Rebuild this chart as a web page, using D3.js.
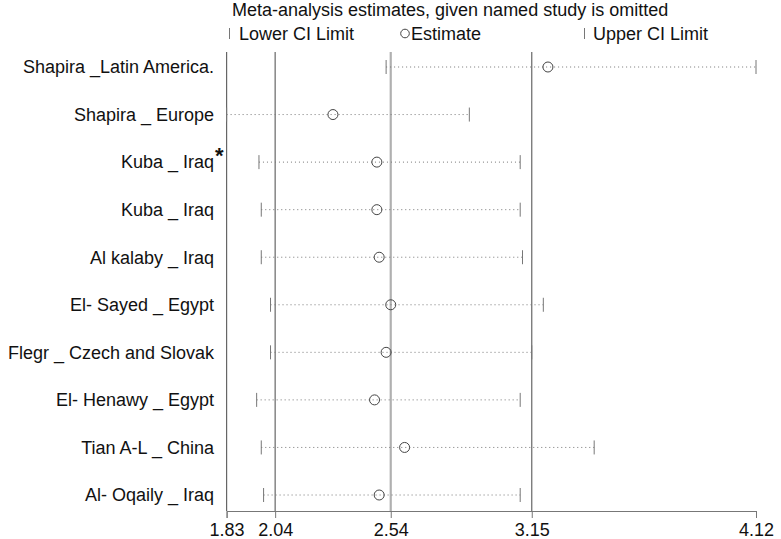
<!DOCTYPE html>
<html>
<head>
<meta charset="utf-8">
<script src="https://cdn.jsdelivr.net/npm/d3@7"></script>
<style>
  html, body { margin: 0; padding: 0; background: #fff; }
  svg { display: block; font-family: Arial, "Liberation Sans", sans-serif; }
</style>
</head>
<body>
<svg id="chart" width="781" height="539"></svg>
<script>
const studies = [
  "Shapira _Latin America.",
  "Shapira _ Europe",
  "Kuba _ Iraq",
  "Kuba _ Iraq",
  "Al kalaby _ Iraq",
  "El- Sayed _ Egypt",
  "Flegr _ Czech and Slovak",
  "El- Henawy _ Egypt",
  "Tian A-L _ China",
  "Al- Oqaily _ Iraq"
];
const starred = [false, false, true, false, false, false, false, false, false, false];
const lowerCI  = [2.52, 1.83, 1.97, 1.98, 1.98, 2.02, 2.02, 1.96, 1.98, 1.99];
const estimate = [3.22, 2.29, 2.48, 2.48, 2.49, 2.54, 2.52, 2.47, 2.60, 2.49];
const upperCI  = [4.12, 2.88, 3.10, 3.10, 3.11, 3.20, 3.15, 3.10, 3.42, 3.10];
const tickValues = [1.83, 2.04, 2.54, 3.15, 4.12];
const refLines = [2.04, 2.54, 3.15];
const title = "Meta-analysis estimates, given named study is omitted";

const svg = d3.select("#chart");
const x = d3.scaleLinear().domain([1.83, 4.12]).range([226.6, 756]);
const y = d3.scalePoint().domain(d3.range(studies.length)).range([67, 495]);
const plotTop = 52, axisY = 511;
const idx = d3.range(studies.length);

// title
svg.append("text").attr("x", 232).attr("y", 16).attr("font-size", 18).attr("fill", "#111").text(title);

// legend
const lg = svg.append("g");
lg.append("line").attr("x1", 229.5).attr("x2", 229.5).attr("y1", 28).attr("y2", 39).attr("stroke", "#777");
lg.append("text").attr("x", 239).attr("y", 39.5).attr("font-size", 18).attr("fill", "#111").text("Lower CI Limit");
lg.append("circle").attr("cx", 405).attr("cy", 33.5).attr("r", 4.3).attr("fill", "none").attr("stroke", "#444");
lg.append("text").attr("x", 411).attr("y", 39.5).attr("font-size", 18).attr("fill", "#111").text("Estimate");
lg.append("line").attr("x1", 584.5).attr("x2", 584.5).attr("y1", 28).attr("y2", 39).attr("stroke", "#777");
lg.append("text").attr("x", 593).attr("y", 39.5).attr("font-size", 18).attr("fill", "#111").text("Upper CI Limit");

// left border
svg.append("line").attr("x1", x(1.83)).attr("x2", x(1.83)).attr("y1", plotTop).attr("y2", axisY)
  .attr("stroke", "#666").attr("stroke-width", 1.2);

// reference lines
svg.selectAll(".ref").data(refLines).join("line")
  .attr("class", "ref")
  .attr("x1", d => x(d)).attr("x2", d => x(d))
  .attr("y1", plotTop).attr("y2", axisY)
  .attr("stroke", d => d === 2.54 ? "#b0b0b0" : "#666")
  .attr("stroke-width", d => d === 2.54 ? 2.2 : 1.2);

// axis
const axis = d3.axisBottom(x).tickValues(tickValues).tickFormat(d3.format(".2f")).tickSizeOuter(0).tickSize(7);
const ag = svg.append("g").attr("transform", `translate(0,${axisY})`).call(axis);
ag.attr("font-size", 18).attr("font-family", "Arial, 'Liberation Sans', sans-serif");
ag.select(".domain").attr("stroke", "#777");
ag.selectAll(".tick line").attr("stroke", "#777");
ag.selectAll(".tick text").style("font-size", "18px").attr("fill", "#111").attr("y", 12).attr("dy", "0.71em");

// rows
const rows = svg.selectAll(".row").data(idx).join("g").attr("class", "row");
rows.append("line")
  .attr("x1", i => x(lowerCI[i])).attr("x2", i => x(upperCI[i]))
  .attr("y1", i => y(i)).attr("y2", i => y(i))
  .attr("stroke", "#777").attr("stroke-dasharray", "1,3");
rows.append("line")
  .attr("x1", i => x(lowerCI[i])).attr("x2", i => x(lowerCI[i]))
  .attr("y1", i => y(i) - 7).attr("y2", i => y(i) + 7)
  .attr("stroke", "#777");
rows.append("line")
  .attr("x1", i => x(upperCI[i])).attr("x2", i => x(upperCI[i]))
  .attr("y1", i => y(i) - 7).attr("y2", i => y(i) + 7)
  .attr("stroke", "#777");
rows.append("circle")
  .attr("cx", i => x(estimate[i])).attr("cy", i => y(i)).attr("r", 5)
  .attr("fill", "none").attr("stroke", "#444");
rows.append("text")
  .attr("x", 214).attr("y", i => y(i) + 6.3)
  .attr("text-anchor", "end").attr("font-size", 18).attr("fill", "#111")
  .text(i => studies[i]);
rows.filter(i => starred[i]).append("text")
  .attr("x", 215).attr("y", i => y(i) + 1)
  .attr("font-size", 22).attr("font-weight", "bold").attr("fill", "#111")
  .text("*");
</script>
</body>
</html>
